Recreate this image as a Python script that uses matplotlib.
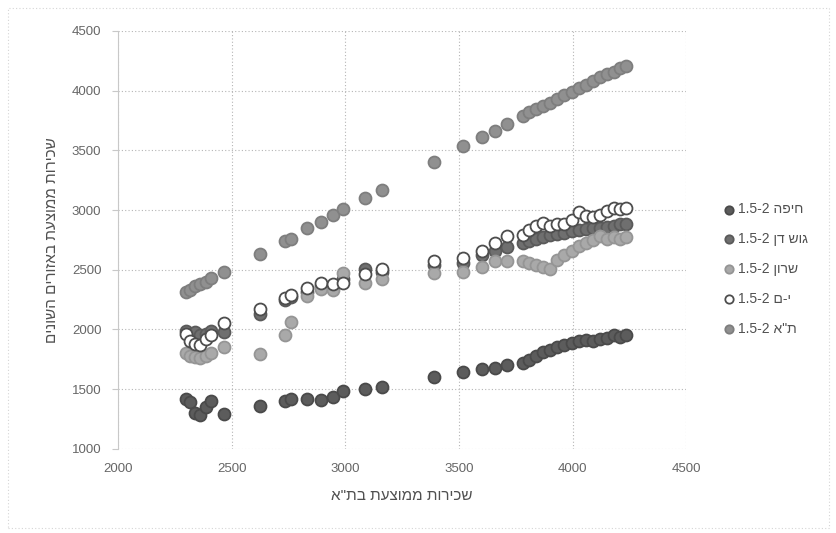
import matplotlib
matplotlib.use("Agg")
import matplotlib.pyplot as plt
from matplotlib.patches import Rectangle

plt.rcParams['font.family'] = ['Liberation Sans', 'DejaVu Sans']

# average rent in Tel Aviv (x) and in each region (y), 1.5-2 rooms
tel_aviv_rent = [2298, 2318, 2340, 2362, 2385, 2408, 2468, 2624, 2735, 2760,
                 2833, 2891, 2944, 2990, 3087, 3162, 3390, 3519, 3599, 3657,
                 3710, 3780, 3810, 3840, 3870, 3900, 3930, 3960, 3995, 4030,
                 4060, 4090, 4120, 4150, 4180, 4210, 4235]

haifa = [1420, 1390, 1300, 1280, 1350, 1400, 1290, 1360, 1400, 1420,
         1420, 1410, 1430, 1480, 1500, 1520, 1600, 1640, 1670, 1680,
         1700, 1720, 1740, 1780, 1810, 1830, 1850, 1870, 1890, 1900,
         1910, 1900, 1920, 1930, 1950, 1940, 1950]

gush_dan = [1990, 1950, 1980, 1950, 1960, 1990, 1980, 2130, 2250, 2270,
            2310, 2360, 2360, 2420, 2510, 2480, 2540, 2560, 2620, 2660,
            2690, 2720, 2740, 2760, 2770, 2790, 2800, 2810, 2820, 2830,
            2840, 2850, 2850, 2860, 2870, 2880, 2880]

sharon = [1800, 1780, 1770, 1760, 1780, 1800, 1850, 1790, 1950, 2060,
          2280, 2340, 2330, 2470, 2390, 2420, 2470, 2480, 2520, 2570,
          2570, 2570, 2560, 2540, 2520, 2510, 2580, 2620, 2660, 2700,
          2720, 2750, 2780, 2760, 2770, 2760, 2770]

jerusalem = [1960, 1900, 1880, 1870, 1920, 1950, 2050, 2170, 2260, 2290,
             2350, 2390, 2380, 2390, 2460, 2510, 2570, 2600, 2660, 2720,
             2780, 2790, 2830, 2870, 2890, 2870, 2880, 2880, 2920, 2980,
             2950, 2940, 2960, 2990, 3020, 3010, 3020]

tel_aviv = [2310, 2330, 2360, 2380, 2400, 2430, 2480, 2630, 2740, 2760,
            2850, 2900, 2960, 3010, 3100, 3170, 3400, 3540, 3610, 3660,
            3720, 3790, 3820, 3850, 3870, 3900, 3930, 3960, 3990, 4020,
            4050, 4080, 4110, 4140, 4160, 4190, 4210]

x_ticks = [2000, 2500, 3000, 3500, 4000, 4500]
y_ticks = [1000, 1500, 2000, 2500, 3000, 3500, 4000, 4500]

region_names = ['חיפה', 'גוש דן', 'שרון', 'י-ם', 'ת"א']
x_title = 'שכירות ממוצעת בת"א'
y_title = 'שכירות ממוצעת באזורים השונים'


def rtl(s):
    # matplotlib has no bidi support, so flip Hebrew into visual order
    return s[::-1]


fig = plt.figure(figsize=(8.37, 5.33), dpi=100)
ax = fig.add_axes([0.141, 0.158, 0.679, 0.784])

series = [haifa, gush_dan, sharon, jerusalem, tel_aviv]
faces = ['#5c5c5c', '#6f6f6f', '#a9a9a9', 'white', '#909090']
edges = ['#4a4a4a', '#5a5a5a', '#959595', '#4d4d4d', '#7e7e7e']

for ys, name, fc, ec in zip(series, region_names, faces, edges):
    ax.scatter(tel_aviv_rent, ys, s=74, facecolor=fc, edgecolor=ec,
               linewidth=1.3, label='1.5-2 ' + rtl(name), zorder=3)

ax.set_xlim(2000, 4500)
ax.set_ylim(1000, 4500)
ax.set_xticks(x_ticks)
ax.set_yticks(y_ticks)
ax.grid(True, linestyle=(0, (1, 2)), color='#b5b5b5', linewidth=0.8)
ax.set_axisbelow(True)

for side in ['top', 'right', 'bottom']:
    ax.spines[side].set_visible(False)
ax.spines['left'].set_color('#c8c8c8')
ax.tick_params(axis='x', length=0, pad=10, labelsize=9.5, labelcolor='#666666')
ax.tick_params(axis='y', length=4, color='#c8c8c8', pad=8, labelsize=9.5,
               labelcolor='#666666')

ax.set_xlabel(rtl(x_title), fontsize=11, color='#505050', labelpad=10)
ax.set_ylabel(rtl(y_title), fontsize=11, color='#505050', labelpad=9)

leg = ax.legend(loc='center left', bbox_to_anchor=(1.04, 0.43), frameon=False,
                fontsize=10, labelspacing=1.15, handletextpad=0.05,
                markerscale=0.7, handlelength=1.1)
for t in leg.get_texts():
    t.set_color('#505050')

# faint outer frame of the chart area
fig.patches.append(Rectangle((0.01, 0.01), 0.98, 0.975, transform=fig.transFigure,
                             fill=False, edgecolor='#d5d5d5', linewidth=0.8,
                             linestyle=(0, (1, 2))))

fig.savefig('out.png', dpi=100)
